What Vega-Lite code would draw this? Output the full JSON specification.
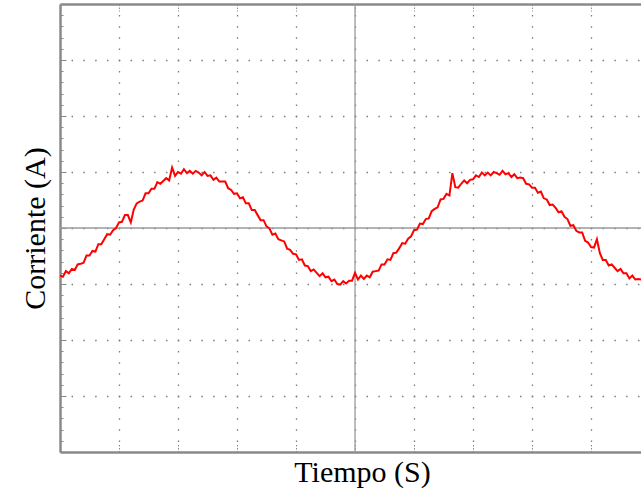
{
  "$schema": "https://vega.github.io/schema/vega-lite/v6.json",
  "width": 581,
  "height": 448,
  "autosize": "none",
  "padding": {"left": 60, "top": 4, "right": 0, "bottom": 42},
  "background": "white",
  "config": {"view": {"stroke": null}},
  "layer": [
    {
      "data": {"values": [{}]},
      "mark": {"type": "rule", "color": "#9a9a9a", "strokeWidth": 1.3},
      "encoding": {
        "y": {"datum": 0, "type": "quantitative", "scale": {"domain": [-4, 4], "nice": false}}
      }
    },
    {
      "data": {"values": [{}]},
      "mark": {"type": "rule", "color": "#9a9a9a", "strokeWidth": 1.3},
      "encoding": {
        "x": {
          "datum": 5,
          "type": "quantitative",
          "scale": {"domain": [0, 9.847], "nice": false, "zero": false},
          "axis": {
            "orient": "top",
            "values": [1, 2, 3, 4, 5, 6, 7, 8, 9],
            "tickCount": 20,
            "grid": false,
            "labels": false,
            "title": null,
            "domainColor": "#8a8a8a",
            "domainWidth": 2.5,
            "tickSize": -7,
            "tickDash": [1.5, 1.5],
            "tickColor": "#888888",
            "tickWidth": 1
          }
        }
      }
    },
    {
      "data": {
        "values": [
          {"t": 0.00, "i": -0.85}, {"t": 0.05, "i": -0.87}, {"t": 0.10, "i": -0.77}, {"t": 0.15, "i": -0.81},
          {"t": 0.20, "i": -0.73}, {"t": 0.25, "i": -0.75}, {"t": 0.30, "i": -0.65}, {"t": 0.35, "i": -0.64},
          {"t": 0.40, "i": -0.62}, {"t": 0.45, "i": -0.49}, {"t": 0.50, "i": -0.49}, {"t": 0.55, "i": -0.41},
          {"t": 0.60, "i": -0.42}, {"t": 0.65, "i": -0.29}, {"t": 0.70, "i": -0.29}, {"t": 0.75, "i": -0.20},
          {"t": 0.80, "i": -0.11}, {"t": 0.85, "i": -0.12}, {"t": 0.90, "i": -0.04}, {"t": 0.95, "i": 0.00},
          {"t": 1.00, "i": 0.10}, {"t": 1.05, "i": 0.11}, {"t": 1.10, "i": 0.23}, {"t": 1.15, "i": 0.23},
          {"t": 1.20, "i": 0.10}, {"t": 1.25, "i": 0.33}, {"t": 1.30, "i": 0.44}, {"t": 1.35, "i": 0.47},
          {"t": 1.40, "i": 0.49}, {"t": 1.45, "i": 0.62}, {"t": 1.50, "i": 0.62}, {"t": 1.55, "i": 0.70},
          {"t": 1.60, "i": 0.70}, {"t": 1.65, "i": 0.82}, {"t": 1.70, "i": 0.79}, {"t": 1.75, "i": 0.84},
          {"t": 1.80, "i": 0.89}, {"t": 1.85, "i": 0.85}, {"t": 1.90, "i": 1.08}, {"t": 1.95, "i": 0.93},
          {"t": 2.00, "i": 1.00}, {"t": 2.05, "i": 0.97}, {"t": 2.10, "i": 1.05}, {"t": 2.15, "i": 0.98},
          {"t": 2.20, "i": 1.02}, {"t": 2.25, "i": 0.97}, {"t": 2.30, "i": 1.02}, {"t": 2.35, "i": 0.99},
          {"t": 2.40, "i": 0.94}, {"t": 2.45, "i": 1.00}, {"t": 2.50, "i": 0.93}, {"t": 2.55, "i": 0.94},
          {"t": 2.60, "i": 0.86}, {"t": 2.65, "i": 0.90}, {"t": 2.70, "i": 0.83}, {"t": 2.75, "i": 0.83},
          {"t": 2.80, "i": 0.83}, {"t": 2.85, "i": 0.71}, {"t": 2.90, "i": 0.68}, {"t": 2.95, "i": 0.61},
          {"t": 3.00, "i": 0.62}, {"t": 3.05, "i": 0.53}, {"t": 3.10, "i": 0.55}, {"t": 3.15, "i": 0.44},
          {"t": 3.20, "i": 0.44}, {"t": 3.25, "i": 0.32}, {"t": 3.30, "i": 0.32}, {"t": 3.35, "i": 0.23},
          {"t": 3.40, "i": 0.14}, {"t": 3.45, "i": 0.14}, {"t": 3.50, "i": 0.03}, {"t": 3.55, "i": -0.01},
          {"t": 3.60, "i": -0.12}, {"t": 3.65, "i": -0.10}, {"t": 3.70, "i": -0.20}, {"t": 3.75, "i": -0.22},
          {"t": 3.80, "i": -0.24}, {"t": 3.85, "i": -0.37}, {"t": 3.90, "i": -0.39}, {"t": 3.95, "i": -0.46},
          {"t": 4.00, "i": -0.47}, {"t": 4.05, "i": -0.57}, {"t": 4.10, "i": -0.56}, {"t": 4.15, "i": -0.67},
          {"t": 4.20, "i": -0.68}, {"t": 4.25, "i": -0.77}, {"t": 4.30, "i": -0.74}, {"t": 4.35, "i": -0.80},
          {"t": 4.40, "i": -0.86}, {"t": 4.45, "i": -0.81}, {"t": 4.50, "i": -0.88}, {"t": 4.55, "i": -0.87},
          {"t": 4.60, "i": -0.95}, {"t": 4.65, "i": -0.92}, {"t": 4.70, "i": -1.00}, {"t": 4.75, "i": -1.01},
          {"t": 4.80, "i": -0.95}, {"t": 4.85, "i": -0.99}, {"t": 4.90, "i": -0.94}, {"t": 4.95, "i": -0.94},
          {"t": 5.00, "i": -0.80}, {"t": 5.05, "i": -0.92}, {"t": 5.10, "i": -0.85}, {"t": 5.15, "i": -0.91},
          {"t": 5.20, "i": -0.85}, {"t": 5.25, "i": -0.88}, {"t": 5.30, "i": -0.78}, {"t": 5.35, "i": -0.77},
          {"t": 5.40, "i": -0.76}, {"t": 5.45, "i": -0.65}, {"t": 5.50, "i": -0.65}, {"t": 5.55, "i": -0.56},
          {"t": 5.60, "i": -0.57}, {"t": 5.65, "i": -0.45}, {"t": 5.70, "i": -0.44}, {"t": 5.75, "i": -0.36},
          {"t": 5.80, "i": -0.27}, {"t": 5.85, "i": -0.28}, {"t": 5.90, "i": -0.19}, {"t": 5.95, "i": -0.15},
          {"t": 6.00, "i": -0.04}, {"t": 6.05, "i": -0.03}, {"t": 6.10, "i": 0.08}, {"t": 6.15, "i": 0.07},
          {"t": 6.20, "i": 0.16}, {"t": 6.25, "i": 0.17}, {"t": 6.30, "i": 0.30}, {"t": 6.35, "i": 0.34},
          {"t": 6.40, "i": 0.37}, {"t": 6.45, "i": 0.51}, {"t": 6.50, "i": 0.52}, {"t": 6.55, "i": 0.61},
          {"t": 6.60, "i": 0.58}, {"t": 6.65, "i": 0.98}, {"t": 6.70, "i": 0.73}, {"t": 6.75, "i": 0.72},
          {"t": 6.80, "i": 0.79}, {"t": 6.85, "i": 0.85}, {"t": 6.90, "i": 0.80}, {"t": 6.95, "i": 0.86},
          {"t": 7.00, "i": 0.87}, {"t": 7.05, "i": 0.94}, {"t": 7.10, "i": 0.91}, {"t": 7.15, "i": 0.99},
          {"t": 7.20, "i": 0.94}, {"t": 7.25, "i": 0.99}, {"t": 7.30, "i": 0.94}, {"t": 7.35, "i": 1.00},
          {"t": 7.40, "i": 0.98}, {"t": 7.45, "i": 0.95}, {"t": 7.50, "i": 1.02}, {"t": 7.55, "i": 0.96},
          {"t": 7.60, "i": 0.98}, {"t": 7.65, "i": 0.91}, {"t": 7.70, "i": 0.96}, {"t": 7.75, "i": 0.89},
          {"t": 7.80, "i": 0.90}, {"t": 7.85, "i": 0.89}, {"t": 7.90, "i": 0.79}, {"t": 7.95, "i": 0.78},
          {"t": 8.00, "i": 0.72}, {"t": 8.05, "i": 0.72}, {"t": 8.10, "i": 0.63}, {"t": 8.15, "i": 0.65},
          {"t": 8.20, "i": 0.53}, {"t": 8.25, "i": 0.51}, {"t": 8.30, "i": 0.41}, {"t": 8.35, "i": 0.42},
          {"t": 8.40, "i": 0.36}, {"t": 8.45, "i": 0.28}, {"t": 8.50, "i": 0.30}, {"t": 8.55, "i": 0.20},
          {"t": 8.60, "i": 0.16}, {"t": 8.65, "i": 0.04}, {"t": 8.70, "i": 0.05}, {"t": 8.75, "i": -0.05},
          {"t": 8.80, "i": -0.08}, {"t": 8.85, "i": -0.08}, {"t": 8.90, "i": -0.23}, {"t": 8.95, "i": -0.26},
          {"t": 9.00, "i": -0.34}, {"t": 9.05, "i": -0.35}, {"t": 9.10, "i": -0.20}, {"t": 9.15, "i": -0.45},
          {"t": 9.20, "i": -0.57}, {"t": 9.25, "i": -0.57}, {"t": 9.30, "i": -0.67}, {"t": 9.35, "i": -0.65},
          {"t": 9.40, "i": -0.71}, {"t": 9.45, "i": -0.77}, {"t": 9.50, "i": -0.73}, {"t": 9.55, "i": -0.81},
          {"t": 9.60, "i": -0.81}, {"t": 9.65, "i": -0.90}, {"t": 9.70, "i": -0.85}, {"t": 9.75, "i": -0.92},
          {"t": 9.80, "i": -0.91}, {"t": 9.85, "i": -0.92}
        ]
      },
      "mark": {"type": "line", "color": "#ff0000", "strokeWidth": 2, "clip": true},
      "encoding": {
        "x": {
          "field": "t",
          "type": "quantitative",
          "scale": {"domain": [0, 9.847], "nice": false, "zero": false},
          "title": "Tiempo (S)",
          "axis": {
            "orient": "bottom",
            "values": [1, 2, 3, 4, 5, 6, 7, 8, 9],
            "tickCount": 20,
            "grid": true,
            "gridColor": "#7a7a7a",
            "gridWidth": 1.3,
            "gridDash": [1.5, 9.7],
            "gridDashOffset": 0.75,
            "labels": false,
            "domainColor": "#8a8a8a",
            "domainWidth": 2.5,
            "tickSize": -8,
            "tickDash": [1.5, 1.5],
            "tickColor": "#888888",
            "tickWidth": 1,
            "titleFont": "Liberation Serif",
            "titleFontSize": 30,
            "titleFontWeight": "normal",
            "titleColor": "#000000",
            "titlePadding": 5,
            "titleX": 302
          }
        },
        "y": {
          "field": "i",
          "type": "quantitative",
          "scale": {"domain": [-4, 4], "nice": false},
          "title": "Corriente (A)",
          "axis": {
            "orient": "left",
            "values": [-4, -3.8, -3.6, -3.4, -3.2, -3, -2.8, -2.6, -2.4, -2.2, -2, -1.8, -1.6, -1.4, -1.2, -1, -0.8, -0.6, -0.4, -0.2, 0, 0.2, 0.4, 0.6, 0.8, 1, 1.2, 1.4, 1.6, 1.8, 2, 2.2, 2.4, 2.6, 2.8, 3, 3.2, 3.4, 3.6, 3.8, 4],
            "tickCount": 100,
            "grid": true,
            "gridColor": "#7a7a7a",
            "gridWidth": 1.3,
            "gridDash": [1.5, 10.3],
            "gridDashOffset": 0.75,
            "gridOpacity": {"condition": {"test": "abs(datum.value - round(datum.value)) < 0.01 && abs(datum.value) < 3.9", "value": 1}, "value": 0},
            "labels": false,
            "domainColor": "#8a8a8a",
            "domainWidth": 2.5,
            "tickSize": {"condition": {"test": "abs(datum.value - round(datum.value)) < 0.01", "value": -6}, "value": -3},
            "tickColor": "#888888",
            "tickWidth": 1,
            "titleFont": "Liberation Serif",
            "titleFontSize": 30,
            "titleFontWeight": "normal",
            "titleColor": "#000000",
            "titlePadding": 9
          }
        }
      }
    }
  ]
}
